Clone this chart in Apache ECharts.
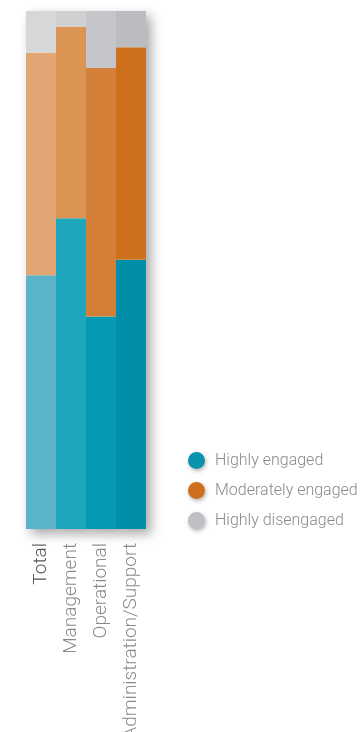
<!DOCTYPE html>
<html style="height: 100%">
<head>
    <meta charset="utf-8">
    <title>Engagement by group</title>
</head>
<body style="height: 100%; margin: 0; background: #ffffff">
<div id="container" style="width: 360px; height: 732px"></div>

<script type="text/javascript" src="https://cdn.jsdelivr.net/npm/echarts@6/dist/echarts.min.js"></script>
<script type="text/javascript">
    // data (percent of each group)
    var categories = ['Total', 'Management', 'Operational', 'Administration/Support'];
    var highlyEngaged = [49, 60, 41, 52];
    var moderatelyEngaged = [43, 37, 48, 41];
    var highlyDisengaged = [8, 3, 11, 7];

    // each column has its own shade
    var blueShades = ['#5ab3c8', '#1ea6bd', '#0699b5', '#008ea8'];
    var orangeShades = ['#e2a574', '#dc9455', '#d47f38', '#cd6f1b'];
    var greyShades = ['#d6d7d9', '#cfd0d2', '#c5c6c9', '#bbbcbf'];

    var totals = categories.map(function (c, i) {
        return highlyEngaged[i] + moderatelyEngaged[i] + highlyDisengaged[i];
    });

    function withColors(values, colors) {
        return values.map(function (v, i) {
            return { value: v, itemStyle: { color: colors[i] } };
        });
    }

    var dom = document.getElementById('container');
    var myChart = echarts.init(dom, null, { renderer: 'canvas' });

    var option = {
        animation: false,
        grid: {
            left: 26, right: 214, top: 11, bottom: 203,
            containLabel: false,
            outerBoundsMode: 'none' // labels run off the bottom, keep the plot where it is
        },
        legend: {
            data: ['Highly engaged', 'Moderately engaged', 'Highly disengaged'],
            orient: 'vertical',
            left: 188,
            top: 452,
            icon: 'circle',
            itemWidth: 17,
            itemHeight: 17,
            itemGap: 13,
            padding: 0,
            itemStyle: {
                shadowBlur: 4,
                shadowOffsetX: 1,
                shadowOffsetY: 2,
                shadowColor: 'rgba(0,0,0,0.3)'
            },
            textStyle: {
                fontFamily: 'Roboto',
                fontWeight: 300,
                fontSize: 16,
                color: '#8a8a8a',
                padding: [0, 0, 0, 5]
            }
        },
        xAxis: {
            type: 'category',
            data: categories,
            axisLine: { show: false },
            axisTick: { show: false },
            axisLabel: {
                rotate: 90,
                margin: 14,
                fontFamily: 'Roboto',
                fontWeight: 300,
                fontSize: 19,
                color: function (value, index) {
                    return index === 0 ? '#555555' : '#8a8a8a';
                }
            }
        },
        yAxis: {
            type: 'value',
            min: 0,
            max: 100,
            show: false
        },
        series: [
            {
                // shadow block behind the columns
                name: 'shadow',
                type: 'bar',
                data: totals,
                barGap: '-100%',
                barCategoryGap: 0,
                z: 1,
                silent: true,
                itemStyle: {
                    color: '#ffffff',
                    shadowBlur: 12,
                    shadowOffsetX: 5,
                    shadowOffsetY: 5,
                    shadowColor: 'rgba(0,0,0,0.35)'
                }
            },
            {
                name: 'Highly engaged',
                type: 'bar',
                stack: 'all',
                z: 2,
                color: '#0a93ad',
                barCategoryGap: 0,
                data: withColors(highlyEngaged, blueShades)
            },
            {
                name: 'Moderately engaged',
                type: 'bar',
                stack: 'all',
                z: 2,
                color: '#cd6f1b',
                data: withColors(moderatelyEngaged, orangeShades)
            },
            {
                name: 'Highly disengaged',
                type: 'bar',
                stack: 'all',
                z: 2,
                color: '#bfc0c3',
                data: withColors(highlyDisengaged, greyShades)
            }
        ]
    };

    myChart.setOption(option);
    window.addEventListener('resize', myChart.resize);
</script>
</body>
</html>
